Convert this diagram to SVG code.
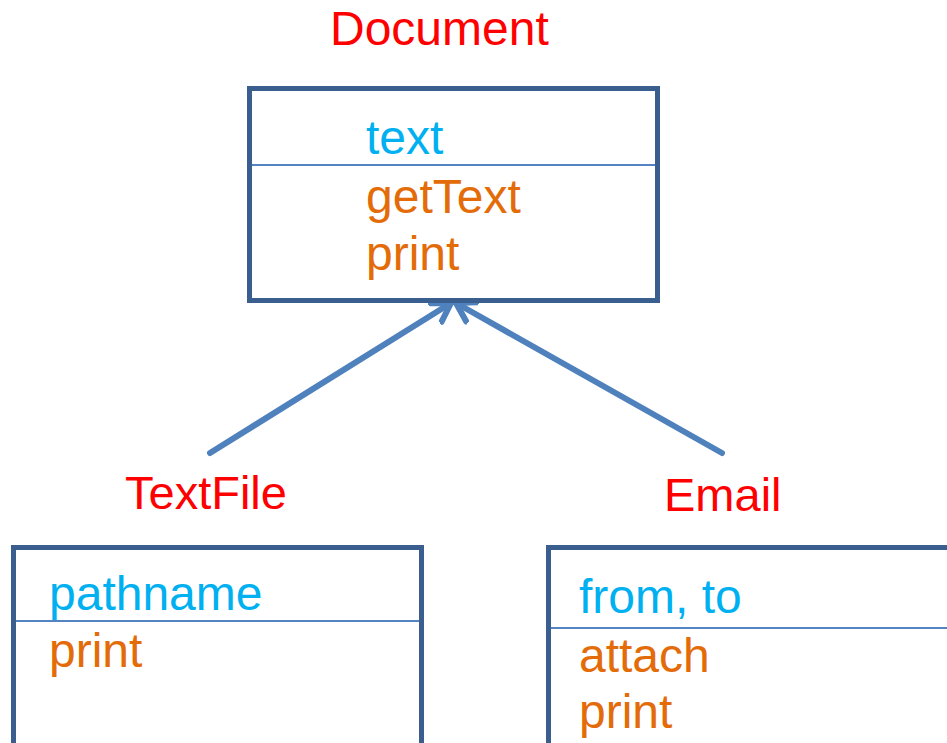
<svg xmlns="http://www.w3.org/2000/svg" width="947" height="743" viewBox="0 0 947 743">
<style>
.box{fill:#fff;stroke:#3a5f8e;stroke-width:5}
.div{stroke:#5584c2;stroke-width:2}
text{font-family:"Liberation Sans",Arial,sans-serif;font-size:48px}
.title{fill:#ff0000}
.sub{font-size:47px}
.attr{fill:#00b0f0}
.op{fill:#e36c09}
.conn{stroke:#4f81bd;stroke-width:6;fill:none;stroke-linecap:round}
</style>
<defs>
<marker id="open" markerUnits="userSpaceOnUse" markerWidth="40" markerHeight="40" refX="20" refY="20" orient="auto" viewBox="0 0 40 40">
<path d="M2,9 L20,20 L2,31" fill="none" stroke="#4f81bd" stroke-width="6" stroke-linecap="round" stroke-linejoin="round"/>
</marker>
</defs>
<g id="connectors">
<line class="conn" x1="210" y1="453" x2="451" y2="303" marker-end="url(#open)"/>
<line class="conn" x1="722" y1="453" x2="456" y2="303" marker-end="url(#open)"/>
</g>
<g id="document">
<text class="title" x="330" y="45">Document</text>
<rect class="box" x="249.5" y="88.5" width="408" height="212"/>
<line class="div" x1="252" y1="165" x2="655" y2="165"/>
<text class="attr" x="366" y="154">text</text>
<text class="op" x="366" y="213">getText</text>
<text class="op" x="366" y="270">print</text>
</g>
<g id="textfile">
<text class="title sub" x="125" y="509">TextFile</text>
<rect class="box" x="13.5" y="547.5" width="408" height="210"/>
<line class="div" x1="16" y1="621" x2="419" y2="621"/>
<text class="attr" x="49" y="610">pathname</text>
<text class="op" x="49" y="667">print</text>
</g>
<g id="email">
<text class="title sub" x="664" y="511">Email</text>
<rect class="box" x="548.5" y="547.5" width="420" height="210"/>
<line class="div" x1="551" y1="628" x2="947" y2="628"/>
<text class="attr" x="579" y="613">from, to</text>
<text class="op" x="579" y="672">attach</text>
<text class="op" x="579" y="728">print</text>
</g>
</svg>
